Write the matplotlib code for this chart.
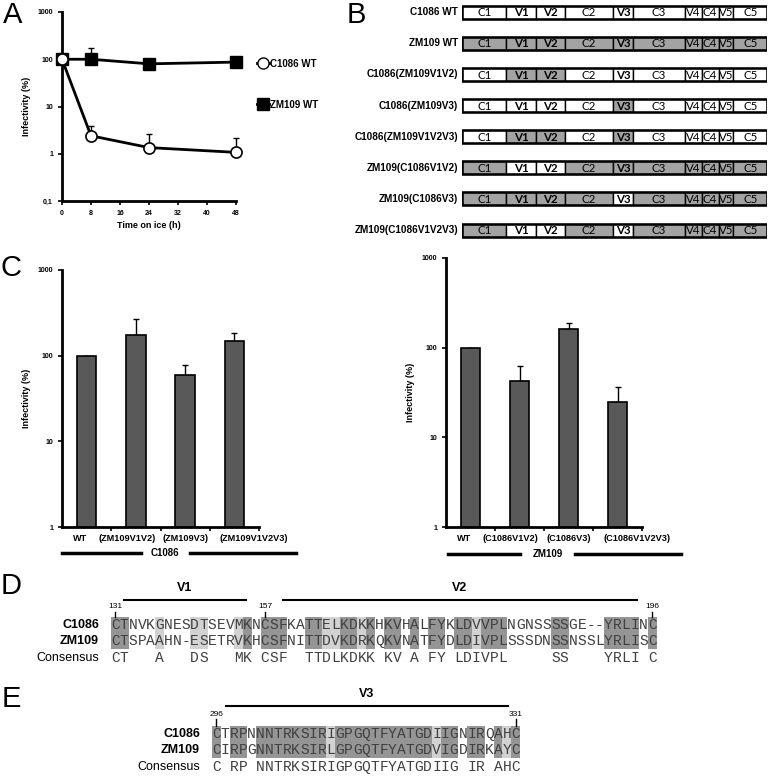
import matplotlib.pyplot as plt
import numpy as np
from matplotlib.patches import Rectangle
from matplotlib.lines import Line2D
from matplotlib.ticker import NullLocator

plt.rcParams['font.family'] = 'Liberation Sans'

W, H = 780, 776

# panel A: infectivity after time on ice
time_h = [0, 8, 24, 48]
c1086_wt = [100, 2.4, 1.35, 1.07]
c1086_wt_err = [0, 1.5, 1.25, 1.13]
zm109_wt = [100, 100, 80, 87]
zm109_wt_err = [0, 75, 0, 12]

# panel B: chimeric envelope constructs
construct_labels = ['C1086 WT', 'ZM109 WT', 'C1086(ZM109V1V2)', 'C1086(ZM109V3)',
                    'C1086(ZM109V1V2V3)', 'ZM109(C1086V1V2)', 'ZM109(C1086V3)',
                    'ZM109(C1086V1V2V3)']
construct_base = ['C1086', 'ZM109', 'C1086', 'C1086', 'C1086', 'ZM109', 'ZM109', 'ZM109']
construct_swapped = [[], [], ['V1', 'V2'], ['V3'], ['V1', 'V2', 'V3'],
                     ['V1', 'V2'], ['V3'], ['V1', 'V2', 'V3']]
env_regions = ['C1', 'V1', 'V2', 'C2', 'V3', 'C3', 'V4', 'C4', 'V5', 'C5']
env_region_len = [0.146, 0.098, 0.093, 0.159, 0.066, 0.17, 0.055, 0.055, 0.049, 0.11]

# panel C: infectivity of chimeras
c1086_cats = ['WT', '(ZM109V1V2)', '(ZM109V3)', '(ZM109V1V2V3)']
c1086_vals = [100, 173, 60, 147]
c1086_err = [0, 94, 17, 37]
zm109_cats = ['WT', '(C1086V1V2)', '(C1086V3)', '(C1086V1V2V3)']
zm109_vals = [100, 42, 163, 25]
zm109_err = [0, 20, 27, 11]

# panel D/E: alignments
d_c1086 = 'CTNVKGNESDTSEVMKNCSFKATTELKDKKHKVHALFYKLDVVPLNGNSSSSGE--YRLINC'
d_zm109 = 'CTSPAAHN-ESETRVKHCSFNITTDVKDRKQKVNATFYDLDIVPLSSSDNSSNSSLYRLISC'
d_cons = 'CT   A   DS   MK CSF  TTDLKDKK KV A FY LDIVPL     SS    YRLI C'
d_shade = 'DD   L   LL   LD DDD  DDLLDDLD DD D DD DDLDDD     DD    DDDD D'
d_numbers = [(1, '131'), (18, '157'), (62, '196')]
d_loops = [('V1', 1.5, 15.3), ('V2', 19.5, 59.8)]

e_c1086 = 'CTRPNNNTRKSIRIGPGQTFYATGDIIGNIRQAHC'
e_zm109 = 'CIRPGNNTRKSIRLGPGQTFYATGDVIGDIRKAYC'
e_cons = 'C RP NNTRKSIRIGPGQTFYATGDIIG IR AHC'
e_shade = 'D DD DDDDDDDDLDDDDDDDDDDDLDD DD DLD'
e_numbers = [(1, '296'), (35, '331')]
e_loops = [('V3', 1.6, 33.6)]

fig = plt.figure(figsize=(W / 100, H / 100), dpi=100)


def add_px_axes(x0, y0, x1, y1):
    return fig.add_axes([x0 / W, 1 - y1 / H, (x1 - x0) / W, (y1 - y0) / H])


def style_axes(ax):
    for s in ['top', 'right']:
        ax.spines[s].set_visible(False)
    for s in ['left', 'bottom']:
        ax.spines[s].set_linewidth(2)
    ax.yaxis.set_minor_locator(NullLocator())
    ax.tick_params(axis='both', which='major', length=3, width=1.2, labelsize=5)
    for lab in ax.get_yticklabels():
        lab.set_fontweight('bold')


# ---------------- A
axA = add_px_axes(62, 12, 236, 201)
axA.set_yscale('log')
axA.plot(time_h, zm109_wt, '-', color='k', lw=2, marker='s', ms=9, mfc='k', mec='k',
         zorder=3, clip_on=False)
axA.errorbar(time_h, zm109_wt, yerr=[np.zeros(4), zm109_wt_err], fmt='none', ecolor='k',
             elinewidth=1, capsize=2, zorder=2, clip_on=False)
axA.plot(time_h, c1086_wt, '-', color='k', lw=2, marker='o', ms=8, mfc='w', mec='k', mew=1.2,
         zorder=3, clip_on=False)
axA.errorbar(time_h, c1086_wt, yerr=[np.zeros(4), c1086_wt_err], fmt='none', ecolor='k',
             elinewidth=1, capsize=2, zorder=2, clip_on=False)
axA.set_xlim(0, 48)
axA.set_ylim(0.1, 1000)
axA.set_xticks(np.arange(0, 49, 8))
axA.set_yticks([0.1, 1, 10, 100, 1000])
axA.set_yticklabels(['0,1', '1', '10', '100', '1000'])
style_axes(axA)
for lab in axA.get_xticklabels():
    lab.set_fontweight('bold')
axA.set_xlabel('Time on ice (h)', fontsize=6.5, weight='bold', labelpad=3)
axA.set_ylabel('Infectivity (%)', fontsize=6.5, weight='bold', labelpad=5)

handles = [Line2D([], [], color='k', lw=2, marker='o', ms=8, mfc='w', mec='k'),
           Line2D([], [], color='k', lw=2, marker='s', ms=9, mfc='k', mec='k')]
fig.legend(handles, ['C1086 WT', 'ZM109 WT'], loc='upper left',
           bbox_to_anchor=(248 / W, 1 - 50 / H), frameon=False, handlelength=1.3,
           handletextpad=0.1, labelspacing=3.2, prop={'weight': 'bold', 'size': 7})

# ---------------- B
axB = add_px_axes(462, -3.3, 767, 245.6)
n_rows = len(construct_labels)
axB.set_xlim(0, 1)
axB.set_ylim(n_rows - 0.5, -0.5)
axB.axis('off')
edges = np.concatenate([[0], np.cumsum(env_region_len)])
edges = edges / edges[-1]
other = {'C1086': 'ZM109', 'ZM109': 'C1086'}
for r in range(n_rows):
    base = construct_base[r]
    for k, reg in enumerate(env_regions):
        strain = other[base] if reg in construct_swapped[r] else base
        fc = '#a3a3a3' if strain == 'ZM109' else 'white'
        axB.add_patch(Rectangle((edges[k], r - 0.21), edges[k + 1] - edges[k], 0.42,
                                fc=fc, ec='k', lw=1))
        axB.text((edges[k] + edges[k + 1]) / 2, r + 0.02, reg, ha='center', va='center',
                 fontsize=8.3, family='Lato',
                 weight='bold' if reg in ('V1', 'V2', 'V3') else 'normal')
    axB.add_patch(Rectangle((0, r - 0.21), 1, 0.42, fill=False, ec='k', lw=1.8))
    axB.text(-0.013, r, construct_labels[r], ha='right', va='center', fontsize=7.2,
             weight='bold')


# ---------------- C
def bar_panel(box, cats, vals, errs, group, line_l, line_r, gx):
    ax = add_px_axes(*box)
    ax.set_yscale('log')
    x = np.arange(len(cats)) + 0.5
    ax.bar(x, vals, width=0.4, color='#595959', edgecolor='k', lw=1.2, zorder=2)
    ax.errorbar(x, vals, yerr=[np.zeros(len(vals)), errs], fmt='none', ecolor='k',
                elinewidth=1, capsize=2.5, capthick=1, zorder=1)
    ax.set_ylim(1, 1000)
    ax.set_xlim(0, len(cats))
    ax.set_yticks([1, 10, 100, 1000])
    ax.set_yticklabels(['1', '10', '100', '1000'])
    # category labels are spread out a little so they do not collide
    ax.set_xticks(x + np.array([-0.13, -0.18, 0.01, 0.4]))
    ax.set_xticklabels(cats)
    ax.set_xticks(np.arange(1, len(cats) + 1), minor=True)
    style_axes(ax)
    ax.tick_params(axis='x', which='major', length=0, pad=5, labelsize=6.6)
    ax.tick_params(axis='x', which='minor', length=3, width=1.2, direction='out')
    for lab in ax.get_xticklabels():
        lab.set_fontweight('bold')
    ax.set_ylabel('Infectivity (%)', fontsize=6.5, weight='bold', labelpad=5)
    gy = -0.1
    ax.plot(line_l, [gy, gy], color='k', lw=2.5, transform=ax.transAxes, clip_on=False)
    ax.plot(line_r, [gy, gy], color='k', lw=2.5, transform=ax.transAxes, clip_on=False)
    ax.text(gx, gy, group, transform=ax.transAxes, ha='center', va='center',
            fontsize=7, weight='bold')
    return ax


bar_panel((62, 270, 259, 527), c1086_cats, c1086_vals, c1086_err, 'C1086',
          [0.0, 0.4], [0.65, 1.19], 0.525)
bar_panel((446, 258, 642, 527), zm109_cats, zm109_vals, zm109_err, 'ZM109',
          [0.01, 0.38], [0.66, 1.2], 0.52)

# ---------------- D / E
ov = fig.add_axes([0, 0, 1, 1])
ov.set_xlim(0, W)
ov.set_ylim(H, 0)
ov.axis('off')

for letter, (lx, ly) in zip('ABCDE', [(13, 15), (356, 15), (11, 268), (11, 586), (11, 699)]):
    fig.text(lx / W, 1 - ly / H, letter, fontsize=21, ha='center', va='center')

SHADE = {'D': '#959595', 'L': '#d2d2d2'}


def draw_alignment(x0, cw, y_top, loop_y, num_y, seqs, cons, shade, numbers, loops):
    rows = [y_top, y_top + 16, y_top + 33]
    for i, s in enumerate(shade):
        if s in SHADE:
            ov.add_patch(Rectangle((x0 + i * cw, rows[0] - 8), cw, rows[1] - rows[0] + 16,
                                   fc=SHADE[s], ec='none', zorder=1))
    for (name, seq), yy in zip(seqs, rows[:2]):
        ov.text(x0 - 12, yy, name, ha='right', va='center', fontsize=9, weight='bold')
        for i, ch in enumerate(seq):
            ov.text(x0 + (i + 0.5) * cw, yy, ch, ha='center', va='center',
                    family='Liberation Mono', fontsize=10.5, color='#404040', zorder=2)
    ov.text(x0 - 12, rows[2], 'Consensus', ha='right', va='center', fontsize=9)
    for i, ch in enumerate(cons):
        ov.text(x0 + (i + 0.5) * cw, rows[2], ch, ha='center', va='center',
                family='Liberation Mono', fontsize=10.5, color='#404040')
    for col, txt in numbers:
        xc = x0 + (col - 0.5) * cw
        ov.text(xc, num_y, txt, ha='center', va='center', fontsize=6)
        ov.plot([xc, xc], [num_y + 5, rows[0] - 8], color='k', lw=1)
    for name, c0, c1 in loops:
        ov.plot([x0 + c0 * cw, x0 + c1 * cw], [loop_y, loop_y], color='k', lw=1.5)
        ov.text(x0 + (c0 + c1) / 2 * cw, loop_y - 12, name, ha='center', va='center',
                fontsize=9, weight='bold')


draw_alignment(111, 8.8, 625, 600, 607, [('C1086', d_c1086), ('ZM109', d_zm109)],
               d_cons, d_shade, d_numbers, d_loops)
draw_alignment(212, 8.8, 734, 706, 714, [('C1086', e_c1086), ('ZM109', e_zm109)],
               e_cons, e_shade, e_numbers, e_loops)

fig.savefig('out.png', dpi=100)
